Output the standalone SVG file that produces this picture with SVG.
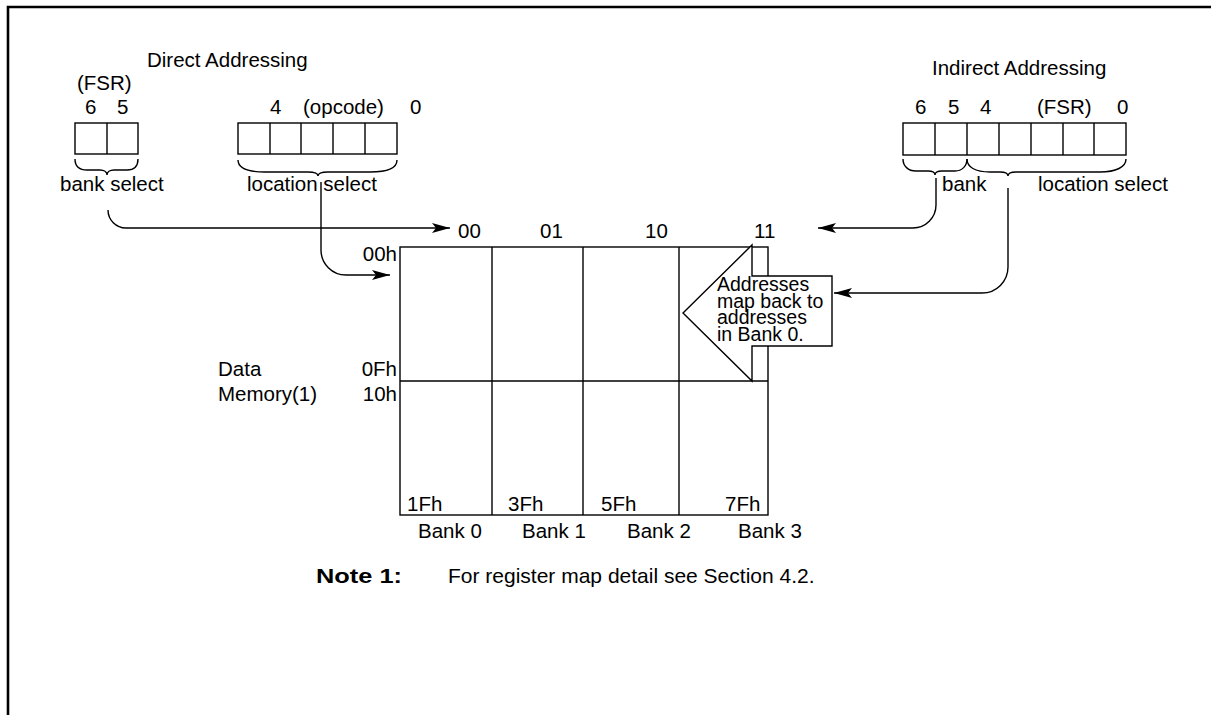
<svg xmlns="http://www.w3.org/2000/svg" width="1211" height="715" viewBox="0 0 1211 715">
<style>
text{font-family:"Liberation Sans",Arial,sans-serif;font-size:20.5px;fill:#000}
.b{font-weight:bold}
.nt{font-size:21px}
.co{font-size:19.5px}
.ln{fill:none;stroke:#000;stroke-width:1.4}
.cell{fill:#fff;stroke:#000;stroke-width:1.4}
.conn{fill:none;stroke:#000;stroke-width:1.4;marker-end:url(#ah)}
.r{text-anchor:end}
</style>
<defs>
<marker id="ah" viewBox="0 0 18 10" refX="18" refY="5" markerWidth="18" markerHeight="10" orient="auto" markerUnits="userSpaceOnUse">
<path d="M0,0 L18,5 L0,10 L4,5 Z" fill="#000"/>
</marker>
</defs>
<rect width="1211" height="715" fill="#fff"/>
<g id="frame"><path d="M8,715 L8,7 L1211,7" fill="none" stroke="#000" stroke-width="2.6"/></g>

<g id="direct">
<text x="147" y="67">Direct Addressing</text>
<text x="77" y="90">(FSR)</text>
<text x="85" y="114">6</text>
<text x="117" y="114">5</text>
<rect class="cell" x="75" y="123" width="63" height="31"/>
<line class="ln" x1="107" y1="123" x2="107" y2="154"/>
<path class="ln" d="M75,159 C75,166 79,170 87,170 L100,170 C104,170 107,172 107,175 C107,172 110,170 114,170 L127,170 C134,170 138,166 138,159"/>
<text x="60" y="191">bank select</text>
<text x="270" y="114">4</text>
<text x="303" y="114">(opcode)</text>
<text x="410" y="114">0</text>
<rect class="cell" x="238" y="123" width="159" height="31"/>
<line class="ln" x1="270" y1="123" x2="270" y2="154"/>
<line class="ln" x1="301" y1="123" x2="301" y2="154"/>
<line class="ln" x1="333" y1="123" x2="333" y2="154"/>
<line class="ln" x1="365" y1="123" x2="365" y2="154"/>
<path class="ln" d="M238,160 C238,168 248,172 265,172 L308,172 C314,172 318,173 318,176 C318,173 322,172 328,172 L370,172 C387,172 397,168 397,160"/>
<text x="247" y="191">location select</text>
</g>

<g id="indirect">
<text x="932" y="75">Indirect Addressing</text>
<text x="915" y="114">6</text>
<text x="948" y="114">5</text>
<text x="980" y="114">4</text>
<text x="1037" y="114">(FSR)</text>
<text x="1117" y="114">0</text>
<rect class="cell" x="903" y="123" width="223" height="32"/>
<line class="ln" x1="935" y1="123" x2="935" y2="155"/>
<line class="ln" x1="967" y1="123" x2="967" y2="155"/>
<line class="ln" x1="999" y1="123" x2="999" y2="155"/>
<line class="ln" x1="1031" y1="123" x2="1031" y2="155"/>
<line class="ln" x1="1063" y1="123" x2="1063" y2="155"/>
<line class="ln" x1="1094" y1="123" x2="1094" y2="155"/>
<path class="ln" d="M903,159 C903,166 908,171 916,171 L928,171 C932,171 935,172 935,175 C935,172 938,171 942,171 L955,171 C962,171 967,166 967,159"/>
<path class="ln" d="M967,159 C967,167 975,172 990,172 L1000,172 C1005,172 1008,173 1008,176 C1008,173 1011,172 1016,172 L1100,172 C1116,172 1126,167 1126,159"/>
<text x="942" y="191">bank</text>
<text x="1038" y="191">location select</text>
</g>

<g id="memory">
<rect class="cell" x="400" y="247" width="368" height="268"/>
<line class="ln" x1="492" y1="247" x2="492" y2="515"/>
<line class="ln" x1="583" y1="247" x2="583" y2="515"/>
<line class="ln" x1="679" y1="247" x2="679" y2="515"/>
<line class="ln" x1="400" y1="381" x2="768" y2="381"/>
<text x="458" y="238">00</text>
<text x="540" y="238">01</text>
<text x="645" y="238">10</text>
<text x="754" y="238">11</text>
<text class="r" x="397" y="261">00h</text>
<text class="r" x="397" y="376">0Fh</text>
<text class="r" x="397" y="401">10h</text>
<text x="218" y="376">Data</text>
<text x="218" y="401">Memory(1)</text>
<text x="407" y="511">1Fh</text>
<text x="508" y="511">3Fh</text>
<text x="601" y="511">5Fh</text>
<text x="725" y="511">7Fh</text>
<text x="418" y="538">Bank 0</text>
<text x="522" y="538">Bank 1</text>
<text x="627" y="538">Bank 2</text>
<text x="738" y="538">Bank 3</text>
</g>

<g id="callout">
<polygon points="683,313 752,245 752,276 832,276 832,346 752,346 752,381" fill="#fff" stroke="#000" stroke-width="1.4"/>
<text class="co" x="717" y="291">Addresses<tspan x="717" dy="16.7">map back to</tspan><tspan x="717" dy="16.7">addresses</tspan><tspan x="717" dy="16.7">in Bank 0.</tspan></text>
</g>

<g id="note">
<text class="nt b" x="316" y="583" textLength="86" lengthAdjust="spacingAndGlyphs">Note 1:</text>
<text class="nt" x="448" y="583">For register map detail see Section 4.2.</text>
</g>

<g id="connectors">
<path class="conn" d="M108,210 A18,18 0 0 0 126,228 L450,228"/>
<path class="conn" d="M321,182 L321,250 A25,25 0 0 0 346,275 L390,275"/>
<path class="conn" d="M936,178 L936,205 A23,23 0 0 1 913,228 L818,228"/>
<path class="conn" d="M1008,188 L1008,267 A26,26 0 0 1 982,293 L834,293"/>
</g>
</svg>
